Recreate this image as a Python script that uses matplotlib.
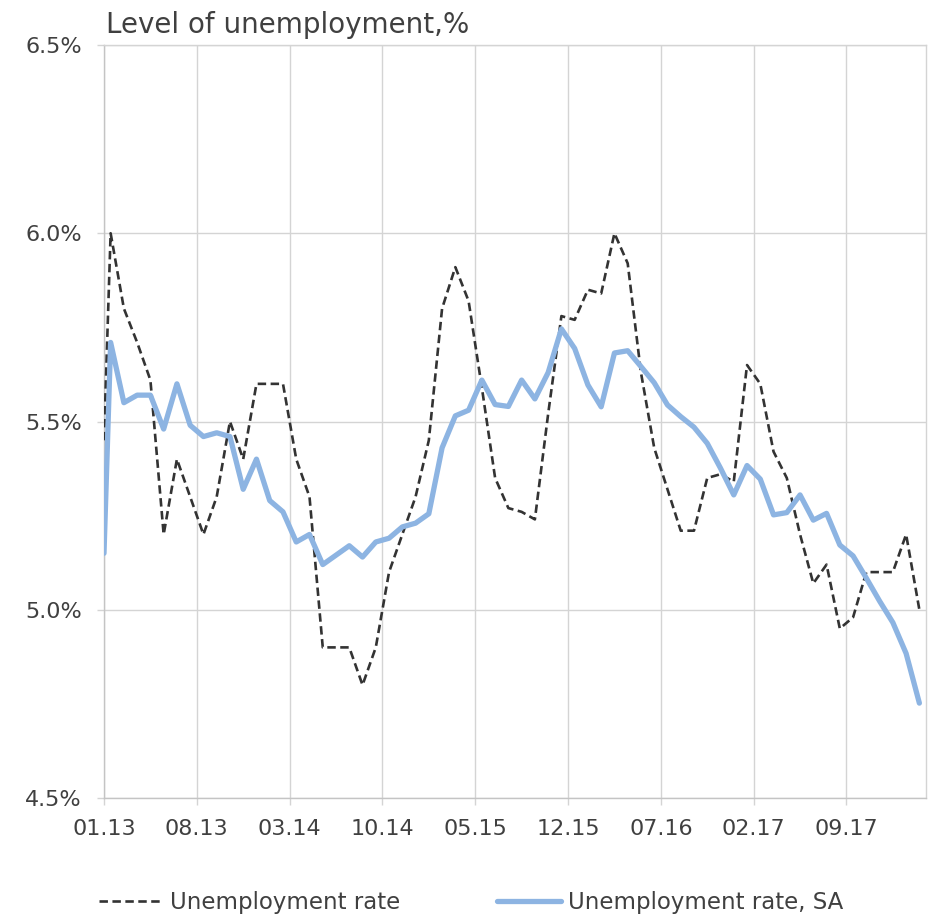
import numpy as np
import matplotlib
matplotlib.use("Agg")
import matplotlib.pyplot as plt
from matplotlib.ticker import FuncFormatter

# monthly data, 01.13 - 02.18 (first value is the opening point on the axis)
rate = [5.45,
        6.00, 5.80, 5.71, 5.61, 5.20, 5.40, 5.30, 5.20, 5.30, 5.50, 5.40, 5.60,
        5.60, 5.60, 5.40, 5.30, 4.90, 4.90, 4.90, 4.80, 4.90, 5.10, 5.20, 5.30,
        5.45, 5.80, 5.91, 5.82, 5.59, 5.35, 5.27, 5.26, 5.24, 5.52, 5.78, 5.77,
        5.85, 5.84, 6.00, 5.92, 5.63, 5.43, 5.32, 5.21, 5.21, 5.35, 5.36, 5.34,
        5.65, 5.60, 5.42, 5.35, 5.20, 5.07, 5.12, 4.95, 4.98, 5.10, 5.10, 5.10,
        5.20, 5.00]
rate_sa = [5.15,
           5.71, 5.55, 5.57, 5.57, 5.48, 5.60, 5.49, 5.46, 5.47, 5.46, 5.32, 5.40,
           5.29, 5.26, 5.18, 5.20, 5.12, 5.145, 5.17, 5.14, 5.18, 5.19, 5.22, 5.23,
           5.255, 5.43, 5.515, 5.53, 5.61, 5.545, 5.54, 5.61, 5.56, 5.63, 5.746, 5.694,
           5.597, 5.539, 5.682, 5.688, 5.646, 5.603, 5.544, 5.513, 5.485, 5.442, 5.376, 5.305,
           5.383, 5.347, 5.252, 5.258, 5.305, 5.238, 5.256, 5.172, 5.143, 5.084, 5.023, 4.966,
           4.884, 4.752]
tick_labels = ["01.13", "08.13", "03.14", "10.14", "05.15", "12.15", "07.16", "02.17", "09.17"]

# month index: opening point at 0, then mid-month points
x = np.r_[0, np.arange(len(rate) - 1) + 0.5]

grid_c = "#d4d4d4"
text_c = "#404040"

fig = plt.figure(figsize=(9.36, 9.17), dpi=100)
ax = fig.add_axes([104 / 936, 1 - 798 / 917, (926 - 104) / 936, (798 - 45) / 917])

ax.plot(x, rate, color="#333333", lw=1.9, dashes=(3.2, 1.7), label="Unemployment rate", zorder=3)
ax.plot(x, rate_sa, color="#8db4e2", lw=3.8, solid_joinstyle="round", solid_capstyle="round",
        label="Unemployment rate, SA", zorder=4)

ax.set_xlim(0, 62)
ax.set_ylim(4.5, 6.5)
ax.set_xticks(np.arange(len(tick_labels)) * 7)
ax.set_xticklabels(tick_labels)
ax.set_yticks([4.5, 5.0, 5.5, 6.0, 6.5])
ax.yaxis.set_major_formatter(FuncFormatter(lambda v, p: f"{v:.1f}%"))

ax.grid(True, color=grid_c, lw=1.0)
ax.set_axisbelow(True)
for s in ax.spines.values():
    s.set_color(grid_c)
    s.set_linewidth(1.0)
ax.spines["left"].set_color("#c4c4c4")
ax.spines["bottom"].set_color("#c4c4c4")

ax.tick_params(axis="both", colors=grid_c, labelcolor=text_c, labelsize=16, length=5, width=1.0)
ax.tick_params(axis="x", pad=10)
ax.tick_params(axis="y", pad=11)

fig.text(106 / 936, 1 - 33 / 917, "Level of unemployment,%", fontsize=20, color=text_c,
         ha="left", va="baseline")

fig.legend(loc="center", bbox_to_anchor=(471 / 936, 1 - 903 / 917), ncol=2, frameon=False,
           fontsize=16.5, labelcolor=text_c, handlelength=2.8, handletextpad=0.3,
           columnspacing=4.2)

fig.savefig("out.png", dpi=100)
